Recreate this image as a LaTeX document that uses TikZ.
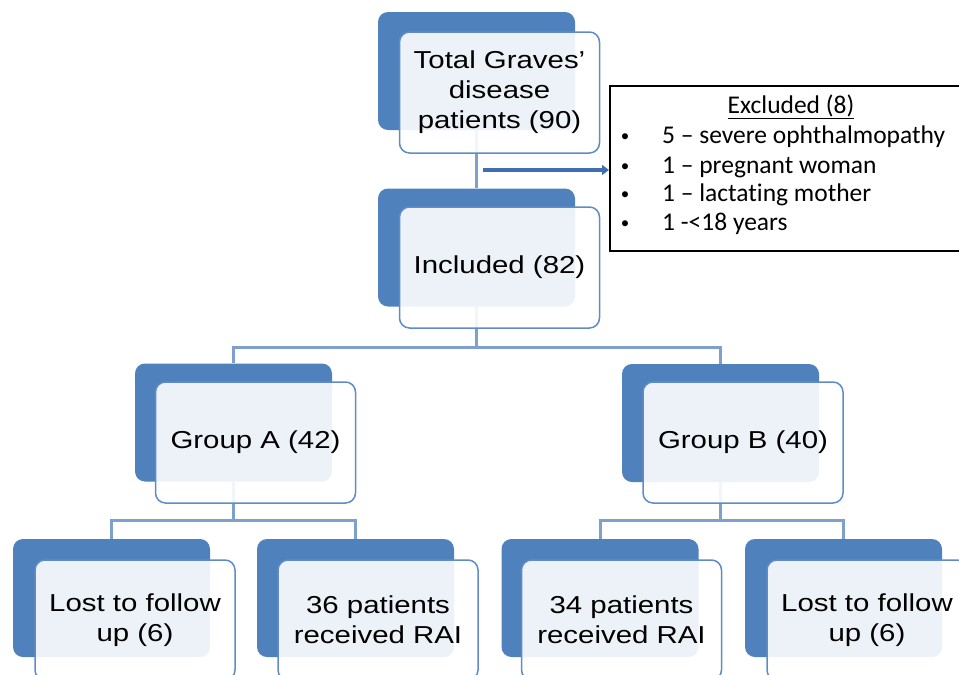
\documentclass[tikz,border=0pt]{standalone}
\usepackage{fontspec}
\setmainfont{Liberation Sans}[FakeStretch=1.2]
\newfontfamily\calib{Carlito}[Ligatures=NoCommon]
\usetikzlibrary{arrows.meta}
\definecolor{bblue}{RGB}{79,129,189}
\definecolor{fblue}{RGB}{95,140,198}
\definecolor{cblue}{RGB}{125,160,205}
\definecolor{ablue}{RGB}{65,110,175}
\newcommand{\mainf}{\fontsize{24.5}{30}\selectfont}
\newcommand{\exf}{\calib\fontsize{25.5}{29}\selectfont}
\newcommand{\bulf}{\calib\fontsize{17}{20}\selectfont}
\tikzset{
  back/.style={fill=bblue, draw=none, rounded corners=10pt, minimum width=197pt, minimum height=118pt, inner sep=0pt},
  front/.style={draw=fblue, line width=1.5pt, fill=white, fill opacity=0.9, text opacity=1, rounded corners=10pt,
    minimum width=200pt, minimum height=121pt, inner sep=0pt, align=center, font=\mainf},
  conn/.style={draw=cblue, line width=3pt},
  exbox/.style={draw=black, line width=2pt, fill=white, minimum width=355pt, minimum height=165pt, inner sep=0pt},
  extext/.style={anchor=base west, font=\exf, inner sep=0pt},
  exbul/.style={anchor=base, font=\bulf, inner sep=0pt},
  exhead/.style={anchor=base, font=\exf, inner sep=0pt}
}
\begin{document}
\begin{tikzpicture}[x=1pt,y=-1pt]
\useasboundingbox (0,0) rectangle (959,675);
\clip (0,0) rectangle (959,675);
% back boxes
\node[back] (topb) at (476.5,71) {};
\node[back] (inclb) at (476.5,247.5) {};
\node[back] (gAb) at (233.5,422.5) {};
\node[back] (gBb) at (720.5,423) {};
\node[back] (l1b) at (111.5,598) {};
\node[back] (r1b) at (355.5,598) {};
\node[back] (r2b) at (600,598) {};
\node[back] (l2b) at (843.5,598) {};
% connectors
\coordinate (j1) at (476.5,347);
\coordinate (j2) at (233.5,520);
\coordinate (j3) at (720.5,520);
\draw[conn] (topb.south) -- (inclb.north);
\draw[conn] (inclb.south) -- (j1) -| (gAb.north);
\draw[conn] (j1) -| (gBb.north);
\draw[conn] (gAb.south) -- (j2) -| (l1b.north);
\draw[conn] (j2) -| (r1b.north);
\draw[conn] (gBb.south) -- (j3) -| (r2b.north);
\draw[conn] (j3) -| (l2b.north);
% front boxes
\node[front] (top) at (499.5,92.5) {Total Graves’\\disease\\patients (90)};
\node[front] (incl) at (499.5,267.5) {Included (82)};
\node[front] (gA) at (255.5,442.5) {Group A (42)};
\node[front] (gB) at (743,442.5) {Group B (40)};
\node[front, minimum height=120pt] (l1) at (135,620) {Lost to follow\\up (6)};
\node[front, minimum height=120pt] (r1) at (378,620) {36 patients\\received RAI};
\node[front, minimum height=120pt] (r2) at (621.5,620) {34 patients\\received RAI};
\node[front, minimum height=120pt] (l2) at (867,620) {Lost to follow\\up (6)};
% excluded box
\node[exbox] (excl) at (787.5,168.5) {};
\node[exhead] (exh) at (791,113) {\underline{Excluded (8)}};
\node[exbul] (b1) at (625,141) {•};
\node[exbul] (b2) at (625,171) {•};
\node[exbul] (b3) at (625,199) {•};
\node[exbul] (b4) at (625,228) {•};
\node[extext] (t1) at (662,143) {5 – severe ophthalmopathy};
\node[extext] (t2) at (662,173) {1 – pregnant woman};
\node[extext] (t3) at (662,201) {1 – lactating mother};
\node[extext] (t4) at (662,230) {1 -<18 years};
% arrow
\coordinate (as) at (483,170);
\draw[draw=ablue, line width=4.5pt, -{Triangle[length=7pt,width=10pt]}] (as) -- (as -| excl.west);
\end{tikzpicture}
\end{document}
